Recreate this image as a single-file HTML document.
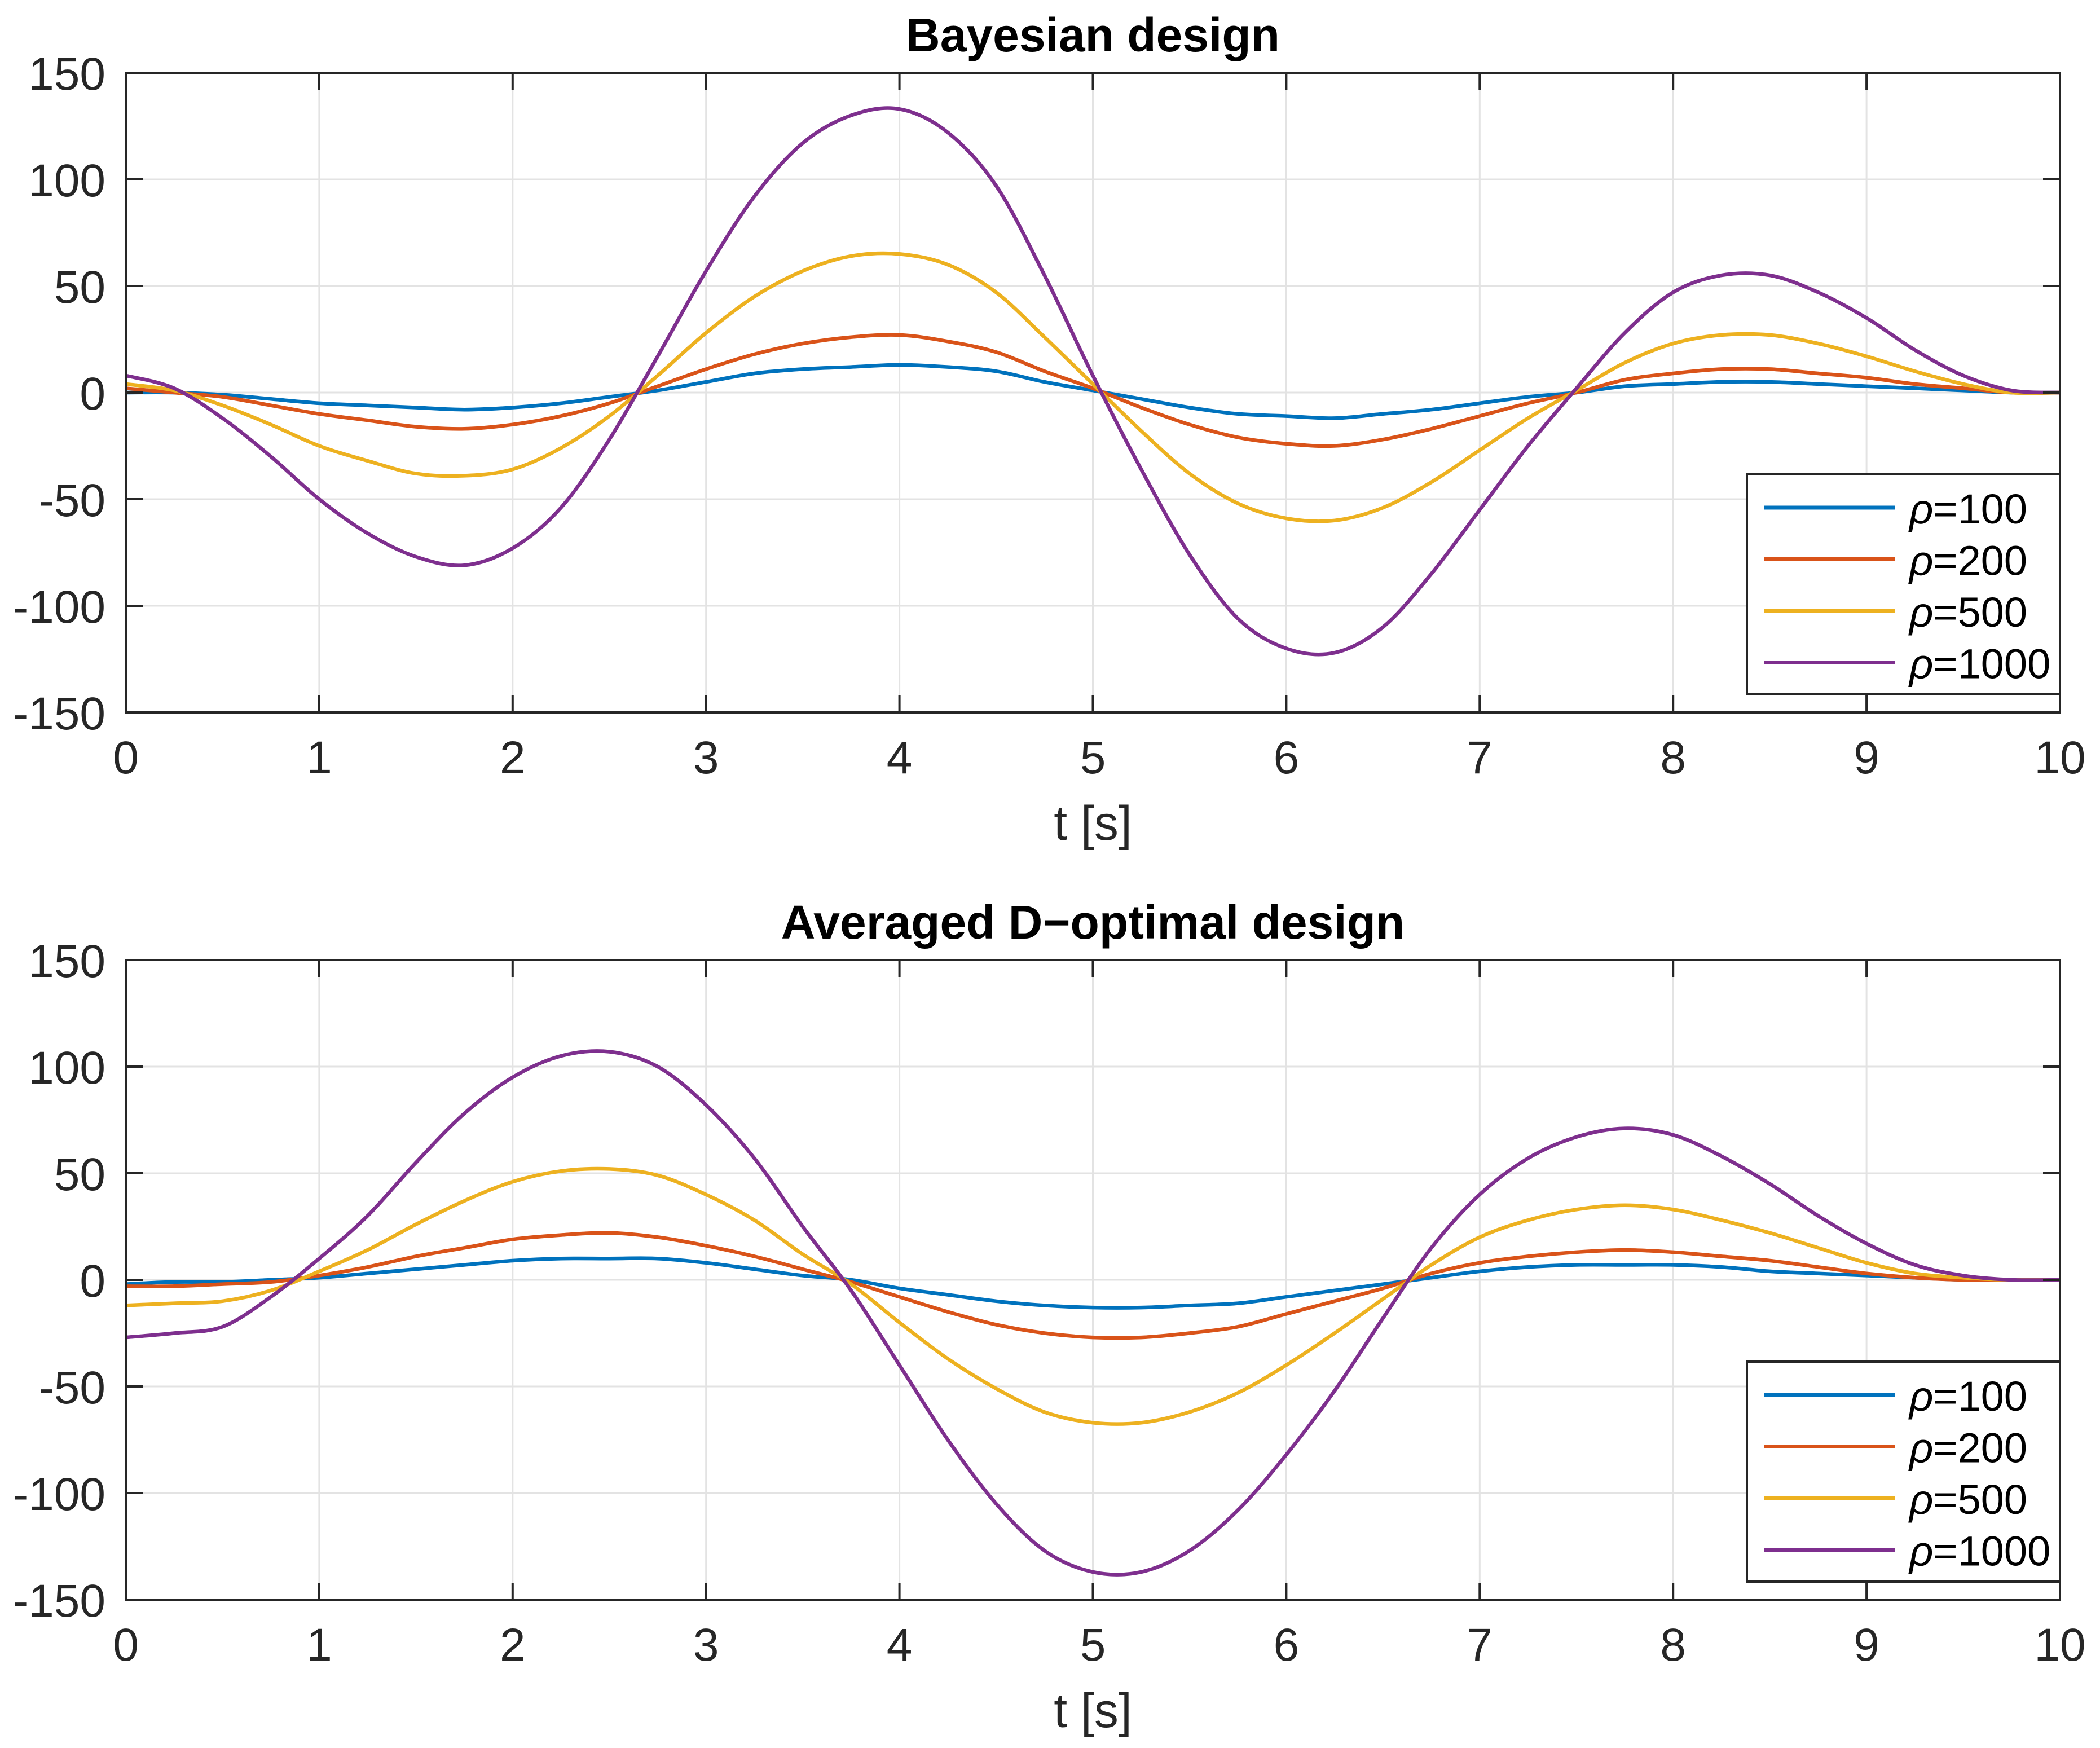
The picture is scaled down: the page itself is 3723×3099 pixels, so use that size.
<!DOCTYPE html>
<html><head><meta charset="utf-8"><style>
html,body{margin:0;padding:0;background:#fff;}
svg{display:block;font-family:"Liberation Sans",sans-serif;}
</style></head>
<body>
<svg id="fig" width="3723" height="3099" viewBox="0 0 3723 3099" xmlns="http://www.w3.org/2000/svg">
<rect width="3723" height="3099" fill="#fff"/>
</svg>
<script>
const xTicks=[0,1,2,3,4,5,6,7,8,9,10];
const yTicks=[-150,-100,-50,0,50,100,150];
const seriesNames=["ρ=100","ρ=200","ρ=500","ρ=1000"];
const seriesColors=["#0072BD","#D95319","#EDB120","#7E2F8E"];
const tStep=0.25;
const topBlue=[0,0,-1,-3,-5,-6,-7,-8,-7,-5,-2,1,5,9,11,12,13,12,10,5,1,-3,-7,-10,-11,-12,-10,-8,-5,-2,0,3,4,5,5,4,3,2,1,0,0];
const topRed=[2,0,-2,-6,-10,-13,-16,-17,-15,-11,-5,3,11,18,23,26,27,24,19,10,2,-7,-15,-21,-24,-25,-22,-17,-11,-5,0,6,9,11,11,9,7,4,2,0,0];
const topYellow=[4,1,-6,-15,-25,-32,-38,-39,-36,-26,-11,8,28,45,57,64,65,60,47,26,4,-18,-38,-52,-59,-60,-54,-42,-27,-12,1,14,23,27,27,23,17,10,4,0,0];
const topPurple=[8,2,-12,-30,-50,-66,-77,-81,-73,-54,-22,17,57,92,117,130,133,122,97,55,8,-36,-76,-106,-120,-122,-110,-85,-55,-25,2,28,47,55,55,47,35,20,8,1,0];
const botBlue=[-2,-1,-1,0,1,3,5,7,9,10,10,10,8,5,2,0,-4,-7,-10,-12,-13,-13,-12,-11,-8,-5,-2,1,4,6,7,7,7,6,4,3,2,1,0,0,0];
const botRed=[-3,-3,-2,-1,2,6,11,15,19,21,22,20,16,11,5,-1,-8,-15,-21,-25,-27,-27,-25,-22,-16,-10,-4,3,8,11,13,14,13,11,9,6,3,1,0,0,0];
const botYellow=[-12,-11,-10,-5,4,14,26,37,46,51,52,49,40,28,12,-2,-20,-37,-51,-62,-67,-67,-62,-53,-40,-25,-9,7,20,28,33,35,33,28,22,15,8,3,1,0,0];
const botPurple=[-27,-25,-22,-8,10,30,55,78,95,105,107,100,82,57,25,-5,-40,-75,-105,-127,-137,-137,-127,-108,-82,-52,-18,15,40,57,67,71,68,58,45,30,17,7,2,0,0];

const NS="http://www.w3.org/2000/svg";
const svg=document.getElementById('fig');
function mk(tag,attrs,parent){const e=document.createElementNS(NS,tag);for(const k in attrs)e.setAttribute(k,attrs[k]);(parent||svg).appendChild(e);return e;}

function drawPanel(top,title,series,pname){
  const L=223,R=3652,T=top,B=top+1134;
  const X=v=>L+(v-0)/(10-0)*(R-L);
  const Y=v=>B-(v+150)/300*(B-T);
  const g=mk('g',{});
  
  
  xTicks.forEach(v=>{const l=mk('line',{x1:X(v),x2:X(v),y1:T,y2:B,stroke:'#e3e3e3','stroke-width':3},g);});
  yTicks.forEach(v=>{const l=mk('line',{x1:L,x2:R,y1:Y(v),y2:Y(v),stroke:'#e3e3e3','stroke-width':3},g);});
  series.forEach((arr,si)=>{
    const pts=arr.map((v,i)=>[X(i*tStep),Y(v)]);
    let d='M'+pts[0][0]+','+pts[0][1];
    for(let i=0;i<pts.length-1;i++){
      const p0=pts[Math.max(0,i-1)],p1=pts[i],p2=pts[i+1],p3=pts[Math.min(pts.length-1,i+2)];
      const c1=[p1[0]+(p2[0]-p0[0])/6,p1[1]+(p2[1]-p0[1])/6];
      const c2=[p2[0]-(p3[0]-p1[0])/6,p2[1]-(p3[1]-p1[1])/6];
      d+=' C'+c1[0].toFixed(1)+','+c1[1].toFixed(1)+' '+c2[0].toFixed(1)+','+c2[1].toFixed(1)+' '+p2[0].toFixed(1)+','+p2[1].toFixed(1);
    }
    const p=mk('path',{d:d,fill:'none',stroke:seriesColors[si],'stroke-width':6.5,'stroke-linejoin':'round'},g);
    
    
  });
  const box=mk('rect',{x:L,y:T,width:R-L,height:B-T,fill:'none',stroke:'#262626','stroke-width':4},g);
  
  
  xTicks.forEach(v=>{
    mk('line',{x1:X(v),x2:X(v),y1:B,y2:B-30,stroke:'#262626','stroke-width':4},g);
    mk('line',{x1:X(v),x2:X(v),y1:T,y2:T+30,stroke:'#262626','stroke-width':4},g);
    const t=mk('text',{x:X(v),y:B+108,'font-size':82,'text-anchor':'middle',fill:'#262626'},g);
    t.textContent=v;
    
    
  });
  yTicks.forEach(v=>{
    mk('line',{x1:L,x2:L+30,y1:Y(v),y2:Y(v),stroke:'#262626','stroke-width':4},g);
    mk('line',{x1:R,x2:R-30,y1:Y(v),y2:Y(v),stroke:'#262626','stroke-width':4},g);
    const t=mk('text',{x:L-36,y:Y(v)+30,'font-size':82,'text-anchor':'end',fill:'#262626'},g);
    t.textContent=v;
    
    
  });
  const xl=mk('text',{x:(L+R)/2,y:B+226,'font-size':86,'text-anchor':'middle',fill:'#262626'},g);
  xl.textContent='t [s]';
  
  
  const tt=mk('text',{x:(L+R)/2,y:T-38,'font-size':84,'font-weight':'bold','text-anchor':'middle',fill:'#000'},g);
  tt.textContent=title;
  
  
  const lx=3097,ly=T+712,lw=R-lx,lh=390;
  const lg=mk('g',{},g);
  
  
  mk('rect',{x:lx,y:ly,width:lw,height:lh,fill:'#fff',stroke:'#262626','stroke-width':4},lg);
  seriesNames.forEach((n,i)=>{
    const yy=ly+59+i*91.5;
    const ln=mk('line',{x1:3128,x2:3359,y1:yy,y2:yy,stroke:seriesColors[i],'stroke-width':7},lg);
    
    
    const t=mk('text',{x:3385,y:yy+28,'font-size':74,fill:'#000'},lg);
    
    
    const r=mk('tspan',{'font-style':'italic'},t);r.textContent='ρ';
    const rest=mk('tspan',{},t);rest.textContent=n.slice(1);
  });
}
drawPanel(129,'Bayesian design',[topBlue,topRed,topYellow,topPurple],'top-panel');
drawPanel(1702,'Averaged D\u2212optimal design',[botBlue,botRed,botYellow,botPurple],'bottom-panel');
</script>
</body></html>
